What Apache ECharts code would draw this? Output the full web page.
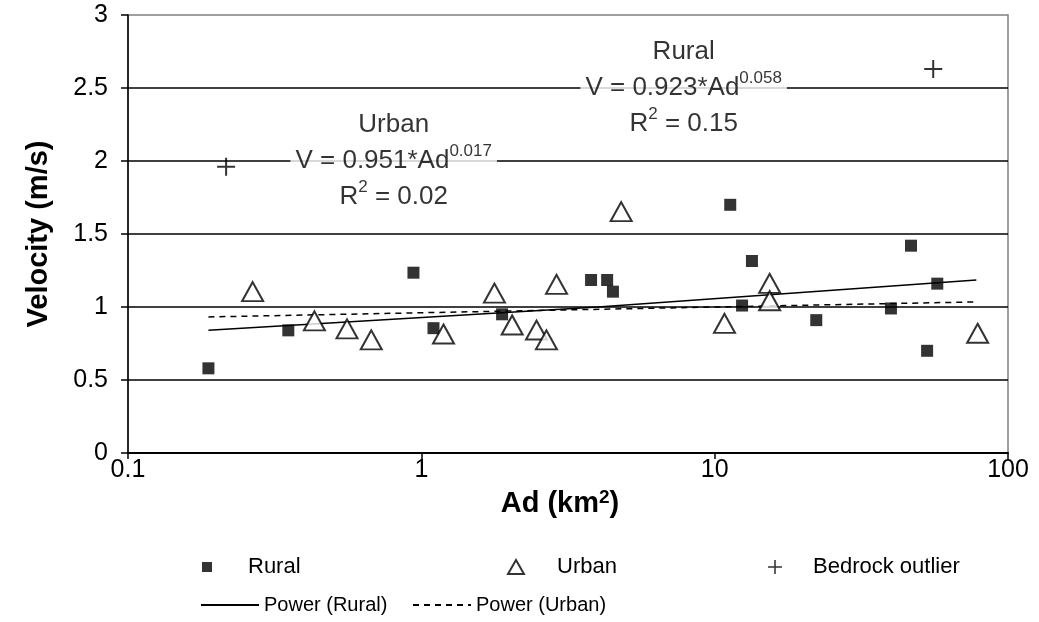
<!DOCTYPE html>
<html>
<head>
<meta charset="utf-8">
<script src="https://cdn.jsdelivr.net/npm/echarts@6/dist/echarts.min.js"></script>
<style>
  html, body { margin: 0; padding: 0; background: #fff; }
  #chart { width: 1039px; height: 622px; }
</style>
</head>
<body>
<div id="chart"></div>
<script>
// values (Ad in km2, V in m/s)
const ruralAd  = [0.188, 0.352, 0.94, 1.10, 1.885, 3.79, 4.30, 4.50, 11.3, 12.4, 13.4, 22.2, 39.9, 46.7, 53.0, 57.4]
const ruralVel = [0.58, 0.84, 1.235, 0.855, 0.95, 1.185, 1.185, 1.105, 1.70, 1.01, 1.315, 0.91, 0.99, 1.42, 0.70, 1.16]

const urbanAd  = [0.266, 0.432, 0.558, 0.675, 1.19, 1.775, 2.04, 2.47, 2.67, 2.89, 4.80, 10.8, 15.4, 15.4, 78.8]
const urbanVel = [1.105, 0.905, 0.85, 0.775, 0.815, 1.095, 0.877, 0.842, 0.775, 1.155, 1.653, 0.888, 1.162, 1.043, 0.82]

const outlierAd  = [0.216, 55.6]
const outlierVel = [1.96, 2.63]

// trend lines as drawn in the picture
const ruralTrendAd  = [0.188, 4, 78]
const ruralTrendVel = [0.84, 1.0, 1.185]
const urbanTrendAd  = [0.188, 78]
const urbanTrendVel = [0.932, 1.035]

// equation boxes: [Ad, V] of the centre of each box
const noteAd  = [7.84, 0.805]
const noteVel = [2.5, 2.0]
const noteText = [
  '{t|Rural}\n{t|V = 0.923*Ad}{sup|0.058}\n{t|R}{sup|2}{t| = 0.15}',
  '{t|Urban}\n{t|V = 0.951*Ad}{sup|0.017}\n{t|R}{sup|2}{t| = 0.02}'
]

const yTicks = [0, 0.5, 1, 1.5, 2, 2.5, 3]

const FONT = "'Liberation Sans', Arial, sans-serif"
const zip = (xs, ys) => xs.map((x, i) => [x, ys[i]])
const PLUS = 'path://M8,0h2v8h8v2h-8v8h-2v-8h-8v-2h8z'

const chart = echarts.init(document.getElementById('chart'), null, { renderer: 'canvas' })

const row1Text = (pad) => ({ fontFamily: FONT, fontSize: 22, color: '#000', padding: [0, 0, 0, pad] })
const row2Text = { fontFamily: FONT, fontSize: 20, color: '#000' }
const noMarker = { color: 'rgba(0,0,0,0)', borderWidth: 0, opacity: 0 }

const option = {
  animation: false,
  backgroundColor: '#fff',
  grid: {
    left: 128, right: 31, top: 15, bottom: 169,
    show: true, borderColor: '#808080', borderWidth: 1.5, backgroundColor: 'transparent'
  },
  legend: [
    { data: ['Rural'], left: 202, top: 556, padding: 0, itemWidth: 10, itemHeight: 10, textStyle: row1Text(31) },
    { data: ['Urban'], left: 507, top: 556, padding: 0, itemWidth: 16, itemHeight: 14, textStyle: row1Text(28) },
    { data: ['Bedrock outlier'], left: 768, top: 556, padding: 0, itemWidth: 14, itemHeight: 14, textStyle: row1Text(26) },
    { data: ['Power (Rural)'], left: 200, top: 595, padding: 0, itemWidth: 58, itemHeight: 12, itemStyle: noMarker, textStyle: row2Text },
    { data: ['Power (Urban)'], left: 412, top: 595, padding: 0, itemWidth: 58, itemHeight: 12, itemStyle: noMarker, textStyle: row2Text }
  ],
  xAxis: {
    type: 'log',
    logBase: 10,
    min: 0.1,
    max: 100,
    name: '{b|Ad (km}{s|2}{b|)}',
    nameLocation: 'middle',
    nameGap: 25,
    nameTextStyle: {
      padding: [0, 16, 0, 0],
      rich: {
        b: { fontFamily: FONT, fontSize: 29, fontWeight: 'bold', color: '#000', lineHeight: 32 },
        s: { fontFamily: FONT, fontSize: 19, fontWeight: 'bold', color: '#000', verticalAlign: 'top', lineHeight: 20 }
      }
    },
    axisLine: { lineStyle: { color: '#000', width: 2 } },
    axisTick: { show: true, length: 6, lineStyle: { color: '#000', width: 1.5 } },
    axisLabel: { fontFamily: FONT, fontSize: 25, color: '#000', margin: 5 },
    splitLine: { show: false },
    minorTick: { show: false }
  },
  yAxis: {
    type: 'value',
    min: yTicks[0],
    max: yTicks[yTicks.length - 1],
    interval: 0.5,
    name: 'Velocity (m/s)',
    nameLocation: 'middle',
    nameGap: 75,
    nameTextStyle: { fontFamily: FONT, fontSize: 29, fontWeight: 'bold', color: '#000' },
    axisLine: { show: true, lineStyle: { color: '#000', width: 1.5 } },
    axisTick: { show: true, length: 7, lineStyle: { color: '#000', width: 1.5 } },
    axisLabel: { fontFamily: FONT, fontSize: 25, color: '#000', margin: 20 },
    splitLine: { show: true, showMaxLine: false, lineStyle: { color: '#000', width: 1.5 } }
  },
  series: [
    {
      name: 'Power (Rural)',
      type: 'line',
      data: zip(ruralTrendAd, ruralTrendVel),
      symbol: 'none',
      color: '#000',
      lineStyle: { color: '#000', width: 1.5, type: 'solid' },
      z: 3
    },
    {
      name: 'Power (Urban)',
      type: 'line',
      data: zip(urbanTrendAd, urbanTrendVel),
      symbol: 'none',
      color: '#000',
      lineStyle: { color: '#000', width: 1.5, type: [6, 5] },
      z: 3
    },
    {
      name: 'Rural',
      type: 'scatter',
      data: zip(ruralAd, ruralVel),
      symbol: 'rect',
      symbolSize: 12,
      itemStyle: { color: '#000' },
      z: 4
    },
    {
      name: 'Urban',
      type: 'scatter',
      data: zip(urbanAd, urbanVel),
      symbol: 'triangle',
      symbolSize: [21, 19],
      itemStyle: { color: '#fff', borderColor: '#000', borderWidth: 2 },
      z: 4
    },
    {
      name: 'Bedrock outlier',
      type: 'scatter',
      data: zip(outlierAd, outlierVel),
      symbol: PLUS,
      symbolSize: 18,
      itemStyle: { color: '#000' },
      z: 4
    },
    {
      name: 'notes',
      type: 'scatter',
      silent: true,
      data: noteAd.map((x, i) => ({ value: [x, noteVel[i]], label: { formatter: noteText[i] } })),
      symbolSize: 1,
      itemStyle: { color: 'rgba(0,0,0,0)' },
      label: {
        show: true,
        position: 'inside',
        backgroundColor: '#fff',
        padding: [0, 5],
        rich: {
          t: { fontFamily: FONT, fontSize: 26, color: '#000', lineHeight: 36 },
          sup: { fontFamily: FONT, fontSize: 17, color: '#000', lineHeight: 18, verticalAlign: 'top' }
        }
      },
      labelLayout: { hideOverlap: false },
      z: 5
    }
  ]
}

chart.setOption(option)
window.addEventListener('resize', () => chart.resize())
</script>
</body>
</html>
